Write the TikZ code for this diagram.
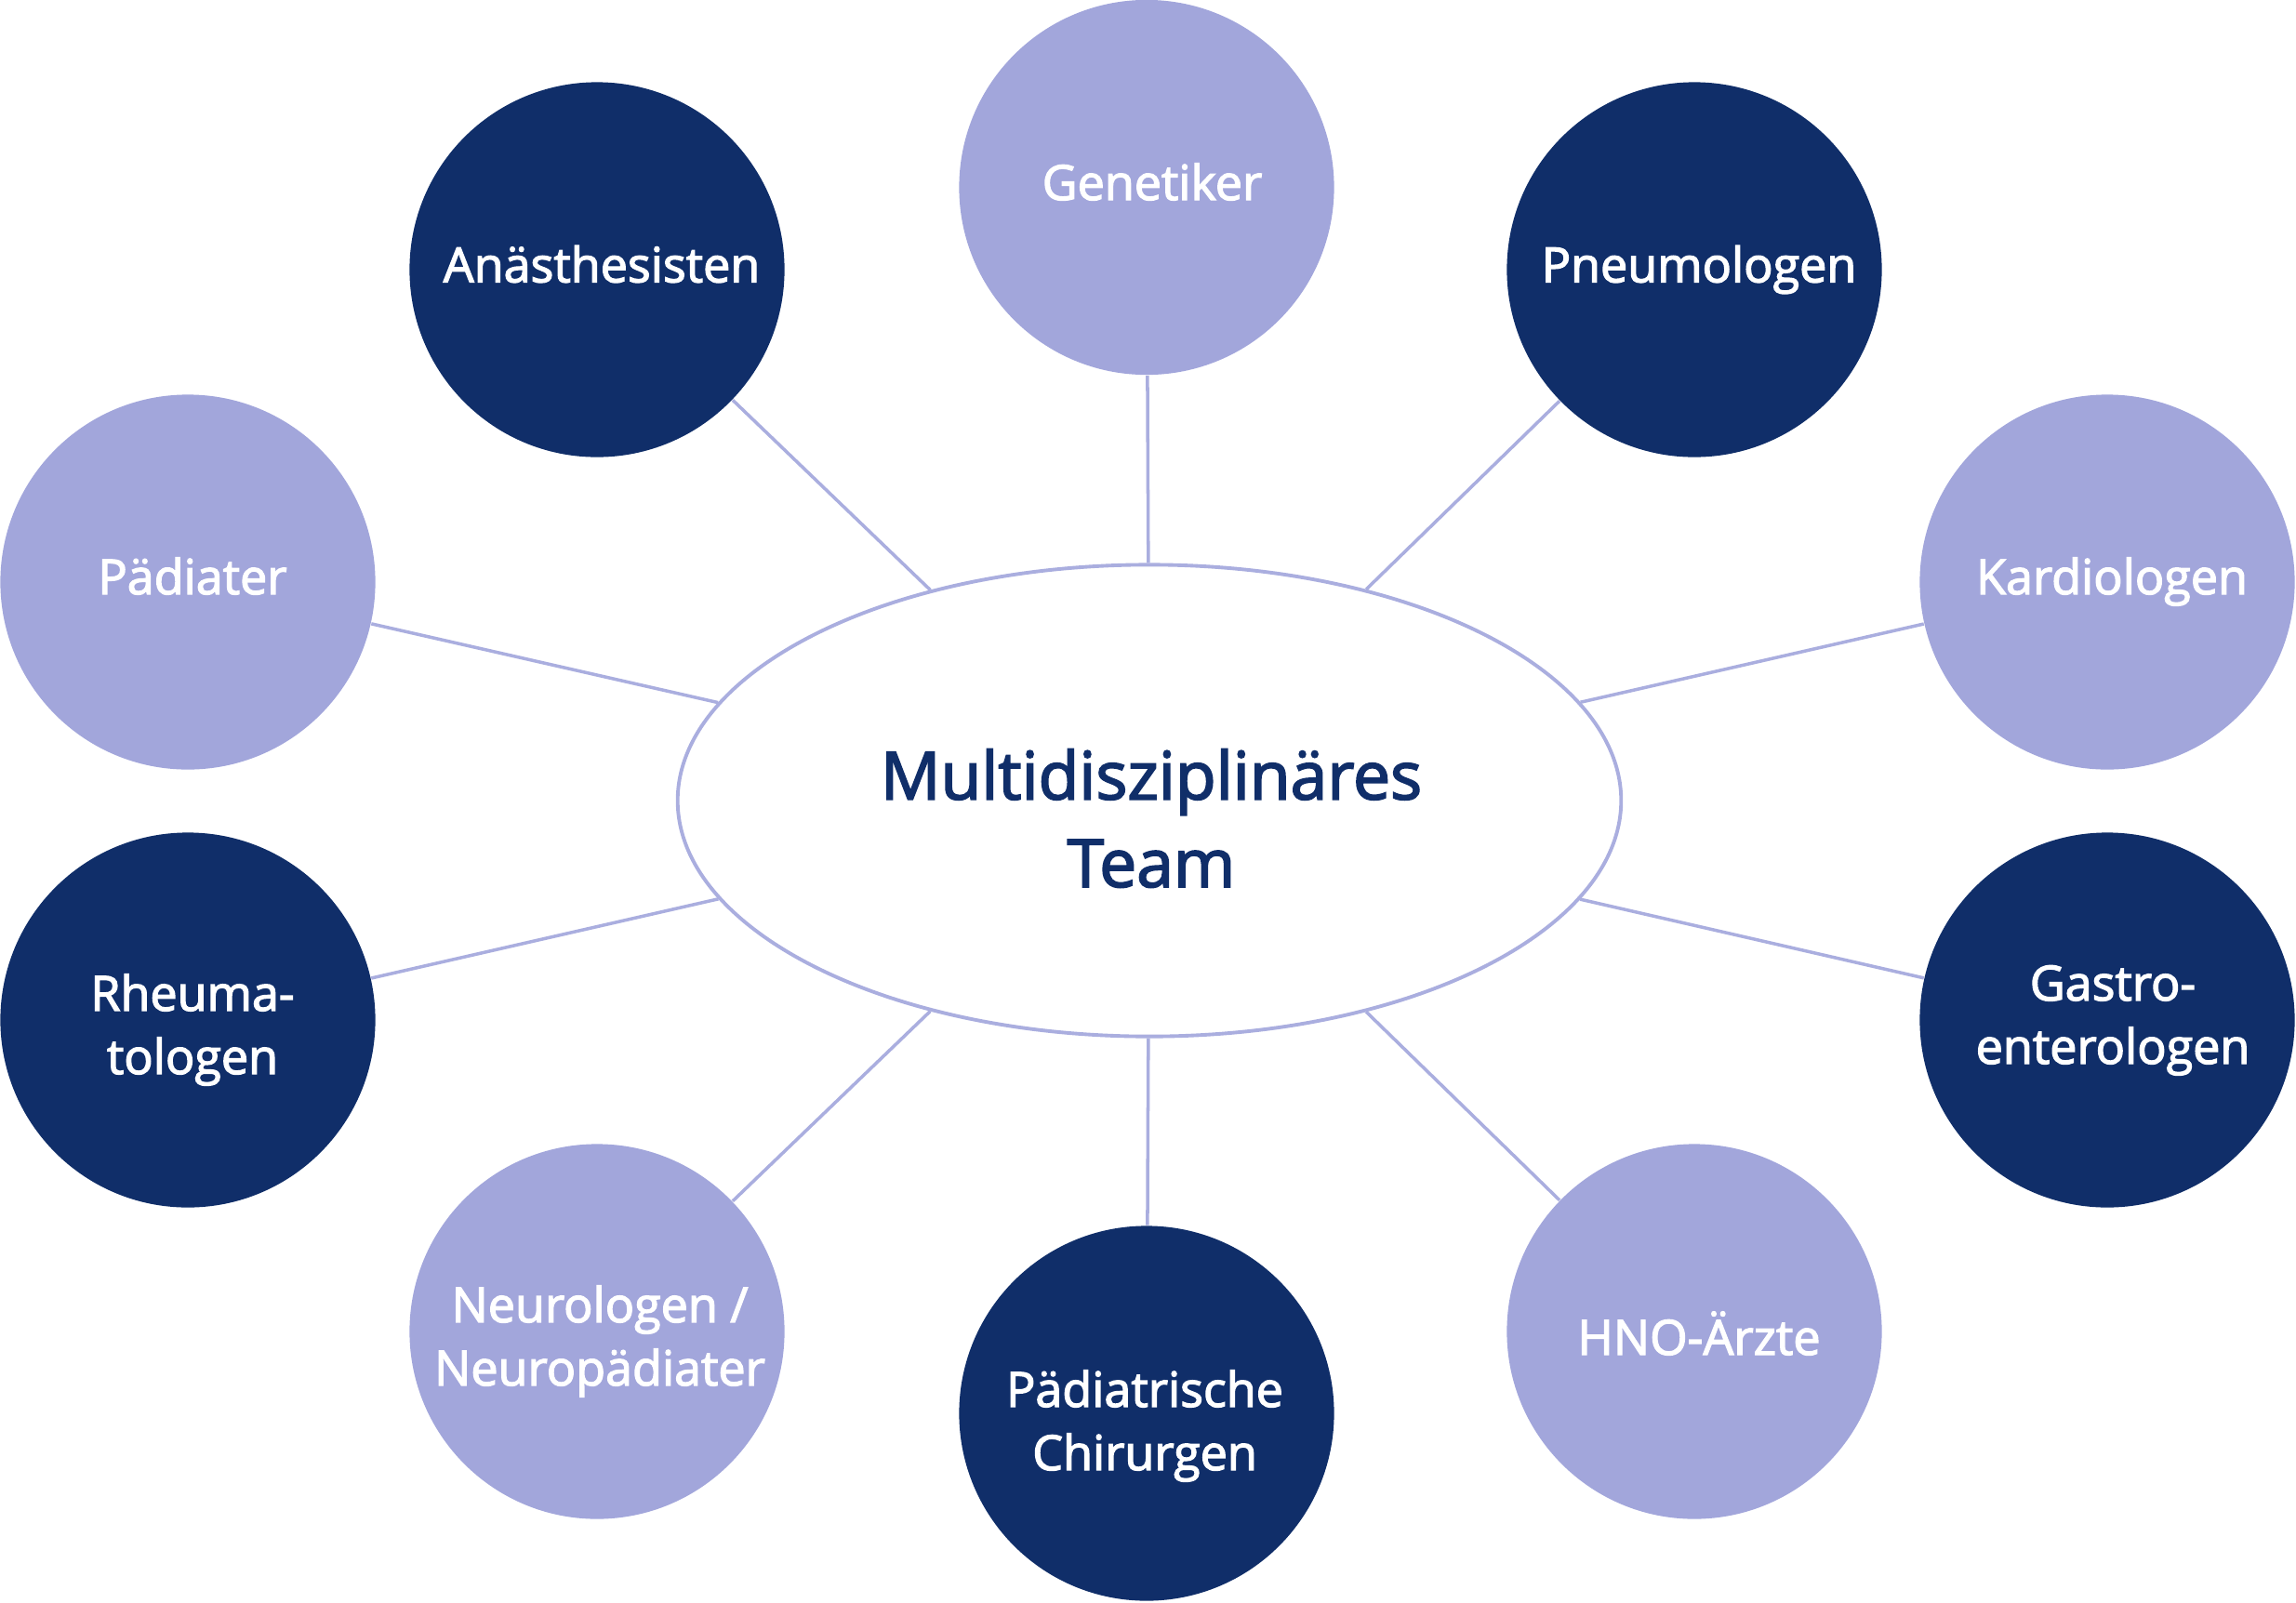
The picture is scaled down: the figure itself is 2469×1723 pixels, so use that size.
\documentclass[tikz,border=0pt]{standalone}
\usepackage{fontspec}
\setmainfont{Open Sans}
\newfontfamily\semib{Open Sans}[FakeBold=2.5]
\usetikzlibrary{shapes.geometric}
\definecolor{navy}{HTML}{102E69}
\definecolor{lav}{HTML}{A2A6DB}
\definecolor{lavline}{HTML}{AAAEDF}
\begin{document}
\begin{tikzpicture}[x=0.01cm,y=-0.01cm,
  member/.style={circle,minimum size=4.03cm,inner sep=0pt},
  darkc/.style={member,fill=navy},
  lightc/.style={member,fill=lav},
  mtext/.style={anchor=base,inner sep=0pt,align=center,text=white,
    font=\semib\fontsize{14.8}{19.35}\selectfont},
  ctext/.style={inner sep=0pt,align=center,text=navy,
    font=\semib\fontsize{20.3}{26.8}\selectfont},
  link/.style={draw=lavline,line width=1pt}]
\useasboundingbox (0,0) rectangle (2469,1723);
\node[ellipse,draw=lavline,line width=1.1pt,fill=white,minimum width=10.14cm,minimum height=5.07cm,
  inner sep=0pt] (team) at (1236,861) {};
\node[ctext] (team-t) at (1238,880) {Multidisziplinäres\\Team};
\node[lightc] (gen) at (1233,201.5) {};
\node[darkc] (anae) at (642,290) {};
\node[darkc] (pneu) at (1822,290) {};
\node[lightc] (paed) at (202,626) {};
\node[lightc] (kard) at (2266,626) {};
\node[darkc] (rheu) at (202,1097) {};
\node[darkc] (gast) at (2266,1097) {};
\node[lightc] (neur) at (642,1432) {};
\node[lightc] (hno) at (1822,1432) {};
\node[darkc] (chir) at (1233,1520) {};
\node[mtext] (gen-t) at (1239,215) {Genetiker};
\node[mtext] (anae-t) at (647,303.5) {Anästhesisten};
\node[mtext] (pneu-t) at (1827,303.5) {Pneumologen};
\node[mtext] (paed-t) at (207,639) {Pädiater};
\node[mtext] (kard-t) at (2271,639) {Kardiologen};
\node[mtext] (rheu-t) at (207,1155) {Rheuma-\\tologen};
\node[mtext] (gast-t) at (2272,1144) {Gastro-\\enterologen};
\node[mtext] (neur-t) at (645,1490) {Neurologen /\\Neuropädiater};
\node[mtext] (hno-t) at (1827,1457) {HNO-Ärzte};
\node[mtext] (chir-t) at (1231,1581) {Pädiatrische\\Chirurgen};
\foreach \n in {gen,anae,pneu,paed,kard,rheu,gast,neur,hno,chir}
  \draw[link] (team) -- (\n);
\end{tikzpicture}
\end{document}
